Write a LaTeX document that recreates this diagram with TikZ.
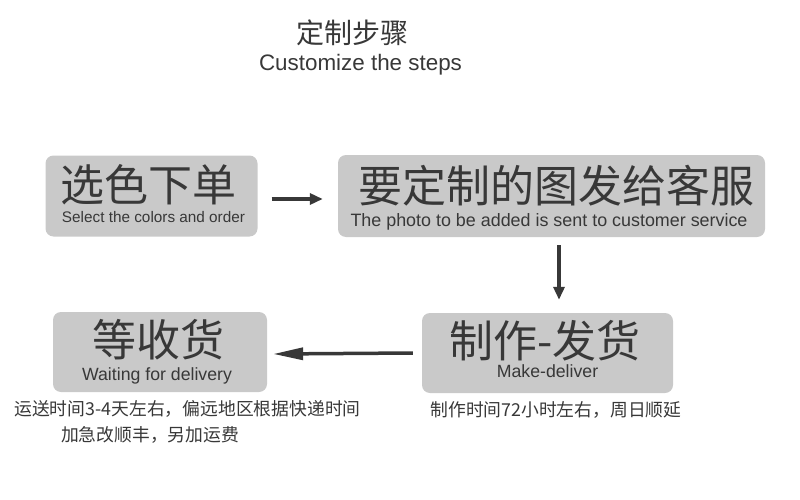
\documentclass[tikz,border=0pt]{standalone}
\usepackage{fontspec}
\setmainfont{Liberation Sans}
\newfontfamily\cjk{Noto Sans CJK SC}
\usetikzlibrary{arrows.meta,calc}
\definecolor{boxgray}{HTML}{C9C9C9}
\definecolor{ink}{HTML}{383838}
\begin{document}
\begin{tikzpicture}[x=1pt,y=-1pt,
  stepbox/.style={fill=boxgray,draw=none,rounded corners=8pt,inner sep=0pt},
  big/.style={text=ink,inner sep=0pt,font=\cjk\fontsize{44}{44}\selectfont},
  eng/.style={text=ink,inner sep=0pt},
  note/.style={text=ink,inner sep=0pt,font=\cjk\fontsize{17.8}{20}\selectfont},
  flow/.style={draw=ink,line width=3.5pt,-{Triangle[length=13pt,width=11pt]}}]
\useasboundingbox (0,0) rectangle (800,500);
% title
\node[text=ink,inner sep=0pt,font=\cjk\fontsize{28}{28}\selectfont] (t1) at (352.5,33) {定制步骤};
\node[text=ink,inner sep=0pt,font=\fontsize{22.4}{22.4}\selectfont] (t2) at (360.5,65) {Customize the steps};
% boxes
\node[stepbox,minimum width=212pt,minimum height=81pt] (b1) at (151.5,196) {};
\node[stepbox,minimum width=427pt,minimum height=82pt] (b2) at (551.5,196) {};
\node[stepbox,minimum width=251pt,minimum height=80pt] (b3) at (547.5,353) {};
\node[stepbox,minimum width=214pt,minimum height=80pt] (b4) at (160,352) {};
% box texts
\node[big] (c1) at (148.5,185) {选色下单};
\node[eng] (e1) at (153.5,217) {\resizebox{183pt}{!}{\fontsize{17}{17}\selectfont Select the colors and order}};
\node[big] (c2) at (556,186) {要定制的图发给客服};
\node[eng,font=\fontsize{17.9}{17.9}\selectfont] (e2) at (549,222) {The photo to be added is sent to customer service};
\node[big] (c3) at (545,341) {制作-发货};
\node[eng,font=\fontsize{17.7}{17.7}\selectfont] (e3) at (547.5,371) {Make-deliver};
\node[big] (c4) at (158,340) {等收货};
\node[eng,font=\fontsize{17.7}{17.7}\selectfont] (e4) at (157,376) {Waiting for delivery};
% notes
\node[note] (n1) at (187.5,409) {运送时间3-4天左右，偏远地区根据快递时间};
\node[note] (n2) at (150,435) {加急改顺丰，另加运费};
\node[note] (n3) at (556,410) {制作时间72小时左右，周日顺延};
% arrows
\draw[flow] ($(b1.east)+(14,3)$) -- ($(b2.west)+(-15,3)$);
\draw[flow] ($(b2.south)+(7.5,8)$) -- ($(b3.north)+(11.5,-13)$);
\draw[draw=ink,line width=3.5pt,-{Triangle[length=30pt,width=12pt]}] ($(b3.west)+(-9,0)$) -- ($(b4.east)+(6,2)$);
\end{tikzpicture}
\end{document}
